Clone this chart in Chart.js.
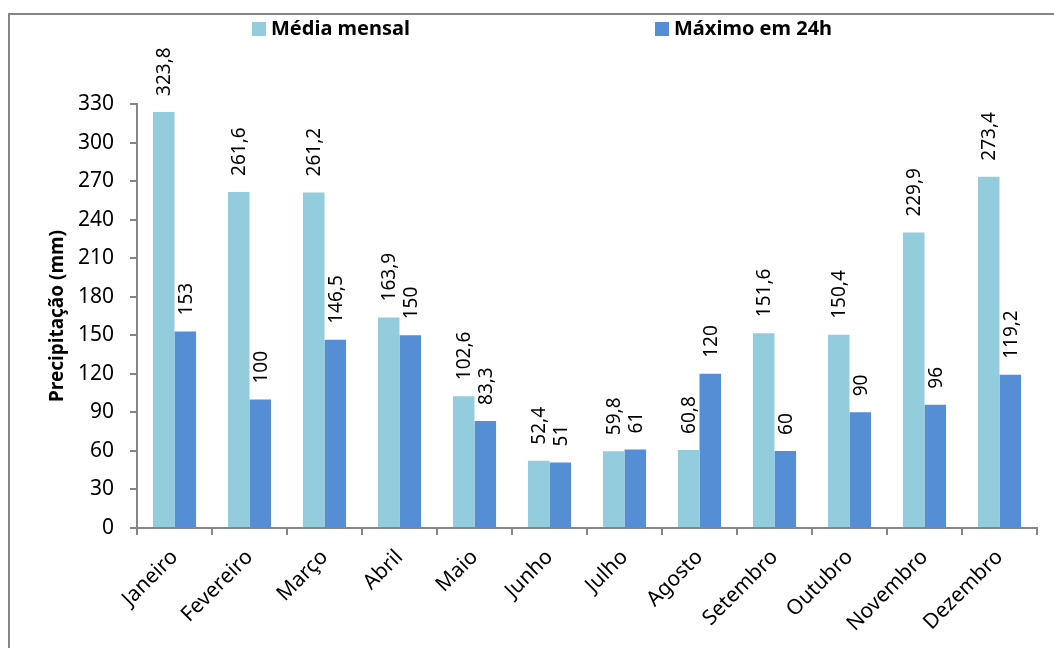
<!DOCTYPE html>
<html>
<head>
<meta charset="utf-8">
<script src="https://cdn.jsdelivr.net/npm/chart.js@4.4.1/dist/chart.umd.min.js"></script>
<style>
  html, body { margin: 0; padding: 0; background: #ffffff; }
  #wrap { width: 1054px; height: 648px; position: relative; }
</style>
</head>
<body>
<div id="wrap"><canvas id="c" width="1054" height="648"></canvas></div>
<script>
const months = ['Janeiro', 'Fevereiro', 'Março', 'Abril', 'Maio', 'Junho', 'Julho', 'Agosto', 'Setembro', 'Outubro', 'Novembro', 'Dezembro'];
const mediaMensal = [323.8, 261.6, 261.2, 163.9, 102.6, 52.4, 59.8, 60.8, 151.6, 150.4, 229.9, 273.4];
const maximo24h = [153, 100, 146.5, 150, 83.3, 51, 61, 120, 60, 90, 96, 119.2];
const seriesNames = ['Média mensal', 'Máximo em 24h'];
const yAxisTitle = 'Precipitação (mm)';
const yMin = 0, yMax = 330, yStep = 30;

const lightColor = '#93CDDD';
const darkColor = '#558ED5';
const axisColor = '#868686';
const FONT = '"Noto Sans", "Open Sans", sans-serif';

const fmt = v => String(v).replace('.', ',');

const framePlugin = {
  id: 'frame',
  beforeDraw(chart) {
    const ctx = chart.ctx;
    ctx.save();
    ctx.fillStyle = '#ffffff';
    ctx.fillRect(0, 0, chart.width, chart.height);
    ctx.strokeStyle = axisColor;
    ctx.lineWidth = 2;
    ctx.strokeRect(9, 14, chart.width + 20, chart.height + 20);
    ctx.restore();
  }
};

const legendPlugin = {
  id: 'customLegend',
  afterDraw(chart) {
    const ctx = chart.ctx;
    const xs = [252, 655];
    ctx.save();
    ctx.font = 'bold 20px ' + FONT;
    ctx.textBaseline = 'middle';
    ctx.textAlign = 'left';
    chart.data.datasets.forEach((ds, i) => {
      const x = xs[i];
      const y = 29;
      ctx.fillStyle = ds.backgroundColor;
      ctx.fillRect(x, y - 7, 14, 14);
      ctx.fillStyle = '#000000';
      ctx.fillText(ds.label, x + 19, y);
    });
    ctx.restore();
  }
};

const labelPlugin = {
  id: 'valueLabels',
  afterDatasetsDraw(chart) {
    const ctx = chart.ctx;
    ctx.save();
    ctx.font = '19px ' + FONT;
    ctx.fillStyle = '#000000';
    ctx.textAlign = 'left';
    ctx.textBaseline = 'middle';
    chart.data.datasets.forEach((ds, di) => {
      const meta = chart.getDatasetMeta(di);
      meta.data.forEach((bar, i) => {
        ctx.save();
        ctx.translate(bar.x + 1, bar.y - 16);
        ctx.rotate(-Math.PI / 2);
        ctx.fillText(fmt(ds.data[i]), 0, 0);
        ctx.restore();
      });
    });
    ctx.restore();
  }
};

new Chart(document.getElementById('c'), {
  type: 'bar',
  data: {
    labels: months,
    datasets: [
      { label: seriesNames[0], data: mediaMensal, backgroundColor: lightColor, borderWidth: 0 },
      { label: seriesNames[1], data: maximo24h, backgroundColor: darkColor, borderWidth: 0 }
    ]
  },
  options: {
    responsive: false,
    animation: false,
    devicePixelRatio: 1,
    layout: { padding: { top: 104, left: 30, right: 17, bottom: 0 } },
    datasets: { bar: { categoryPercentage: 0.575, barPercentage: 1.0 } },
    plugins: {
      legend: { display: false },
      tooltip: { enabled: false }
    },
    scales: {
      x: {
        grid: { display: true, drawOnChartArea: false, offset: true, color: axisColor, tickLength: 7, lineWidth: 2 },
        border: { display: true, color: axisColor, width: 2 },
        ticks: { color: '#000000', font: { family: FONT, size: 21 }, minRotation: 45, maxRotation: 45, padding: 10, autoSkip: false },
        afterFit(scale) { scale.height = 120; }
      },
      y: {
        min: yMin,
        max: yMax,
        grid: { display: true, drawOnChartArea: false, color: axisColor, tickLength: 7, lineWidth: 2 },
        border: { display: true, color: axisColor, width: 2 },
        ticks: { stepSize: yStep, color: '#000000', font: { family: FONT, size: 21 }, padding: 16 },
        title: { display: true, text: yAxisTitle, color: '#000000', font: { family: FONT, size: 19, weight: 'bold' }, padding: { top: 16, bottom: 0 } },
        afterFit(scale) { scale.width = 107; }
      }
    }
  },
  plugins: [framePlugin, legendPlugin, labelPlugin]
});
</script>
</body>
</html>
